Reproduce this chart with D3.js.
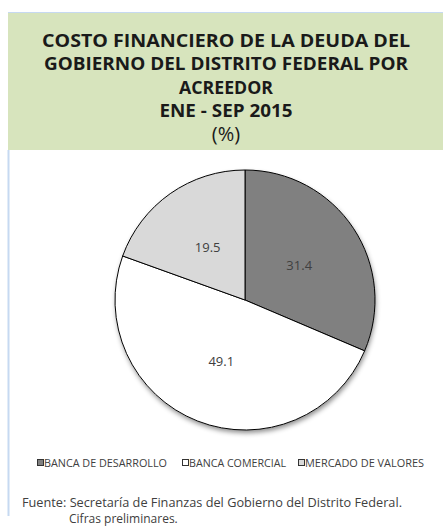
<!DOCTYPE html>
<html>
<head>
<meta charset="utf-8">
<script src="https://cdn.jsdelivr.net/npm/d3@7"></script>
<style>
  html, body { margin: 0; padding: 0; background: #fff; }
  svg { display: block; }
</style>
</head>
<body>
<svg id="chart" width="443" height="529"></svg>
<script>
const titleLines = ["COSTO FINANCIERO DE LA DEUDA DEL", "GOBIERNO DEL DISTRITO FEDERAL POR", "ACREEDOR", "ENE - SEP 2015", "(%)"];
const categories = ["BANCA DE DESARROLLO", "BANCA COMERCIAL", "MERCADO DE VALORES"];
const values = [31.4, 49.1, 19.5];
const colors = ["#808080", "#ffffff", "#d9d9d9"];
const footnotes = ["Fuente: Secretaría de Finanzas del Gobierno del Distrito Federal.", "Cifras preliminares."];

const svg = d3.select("#chart");
const font = "'Open Sans', 'Noto Sans', sans-serif";

// frame
svg.append("rect").attr("x", 8).attr("y", 13).attr("width", 435).attr("height", 137).attr("fill", "#d7e4bd");
svg.append("line").attr("x1", 8).attr("x2", 443).attr("y1", 12.5).attr("y2", 12.5).attr("stroke", "#c6d9f1").attr("stroke-width", 1);
svg.append("line").attr("x1", 8.5).attr("x2", 8.5).attr("y1", 150).attr("y2", 516).attr("stroke", "#c6d9f1").attr("stroke-width", 2);

// title
const titleY = [47, 70, 94, 117, 141];
const titleW = [368, 364, 94, 133, null];
titleLines.forEach((t, i) => {
  const el = svg.append("text")
    .attr("x", 226).attr("y", titleY[i])
    .attr("text-anchor", "middle")
    .attr("font-family", font)
    .attr("font-size", i === 4 ? 20 : 17)
    .attr("font-weight", i === 4 ? "normal" : "bold")
    .attr("fill", "#1a1a1a")
    .text(t);
  if (titleW[i]) el.attr("textLength", titleW[i]).attr("lengthAdjust", "spacingAndGlyphs");
});

// pie
const cx = 245, cy = 300, R = 130;
const defs = svg.append("defs");
const f = defs.append("filter").attr("id", "shadow").attr("x", "-20%").attr("y", "-20%").attr("width", "140%").attr("height", "140%");
f.append("feDropShadow").attr("dx", 1).attr("dy", 3).attr("stdDeviation", 2.5).attr("flood-color", "#000").attr("flood-opacity", 0.45);

const pie = d3.pie().sort(null).value(d => d);
const arcs = pie(values);
const arc = d3.arc().innerRadius(0).outerRadius(R);
const g = svg.append("g").attr("transform", `translate(${cx},${cy})`);
g.append("circle").attr("r", R).attr("fill", "#fff").attr("filter", "url(#shadow)");
g.selectAll("path.slice").data(arcs).enter().append("path")
  .attr("class", "slice")
  .attr("d", arc)
  .attr("fill", (d, i) => colors[i])
  .attr("stroke", "#000").attr("stroke-width", 1);
g.selectAll("text.lbl").data(arcs).enter().append("text")
  .attr("class", "lbl")
  .attr("transform", d => { const c = arc.centroid(d); return `translate(${c[0]},${c[1] + 1})`; })
  .attr("dy", "0.35em")
  .attr("text-anchor", "middle")
  .attr("font-family", font).attr("font-size", 13)
  .attr("fill", "#404040")
  .text(d => d.data.toFixed(1));

// legend
const legX = [37, 182, 298];
const legW = [123, 97, 119];
const lg = svg.append("g");
categories.forEach((c, i) => {
  lg.append("rect").attr("x", legX[i] + 0.5).attr("y", 459.5).attr("width", 6).attr("height", 6)
    .attr("fill", colors[i]).attr("stroke", "#333").attr("stroke-width", 1);
  lg.append("text").attr("x", legX[i] + 7).attr("y", 467)
    .attr("font-family", font).attr("font-size", 10.5).attr("fill", "#404040")
    .attr("textLength", legW[i]).attr("lengthAdjust", "spacingAndGlyphs")
    .text(c);
});

// footnotes
svg.append("text").attr("x", 22).attr("y", 507)
  .attr("font-family", font).attr("font-size", 12).attr("fill", "#404040")
  .attr("textLength", 380).attr("lengthAdjust", "spacingAndGlyphs")
  .text(footnotes[0]);
svg.append("text").attr("x", 69).attr("y", 523)
  .attr("font-family", font).attr("font-size", 12).attr("fill", "#404040")
  .text(footnotes[1]);
</script>
</body>
</html>
